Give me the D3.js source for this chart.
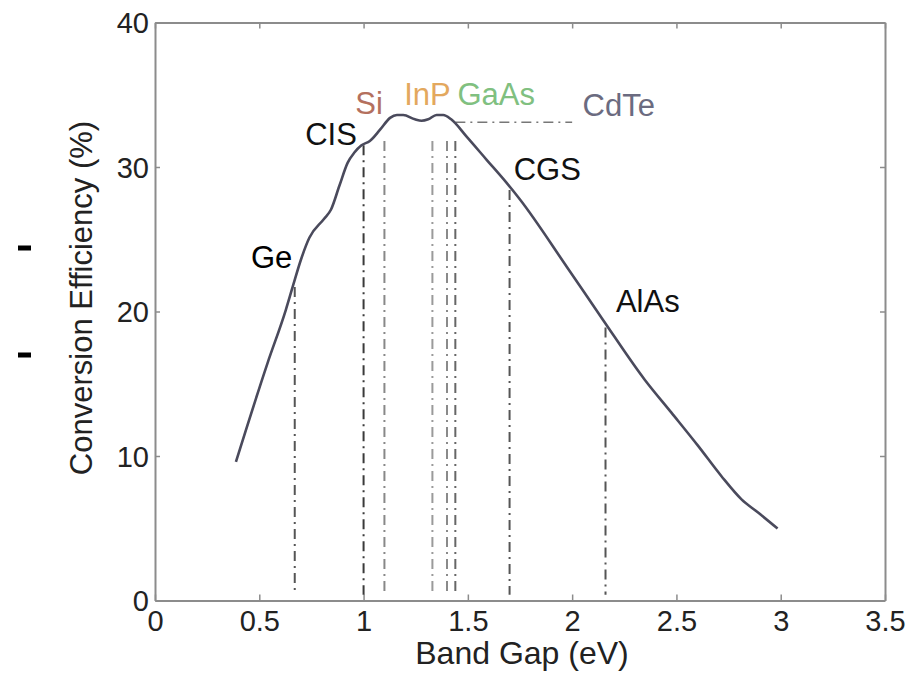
<!DOCTYPE html>
<html>
<head>
<meta charset="utf-8">
<script src="https://cdn.jsdelivr.net/npm/d3@7"></script>
<style>
  html, body { margin: 0; padding: 0; background: #ffffff; }
  svg { display: block; }
  text { font-family: "Liberation Sans", Arial, Helvetica, sans-serif; }
</style>
</head>
<body>
<svg id="chart" width="910" height="676"></svg>
<script>
// ---------------- data ----------------
const bandGap = [0.388, 0.54, 0.627, 0.66, 0.70, 0.74, 0.81, 0.844, 0.884, 0.924, 0.956, 0.99,
  1.03, 1.08, 1.127, 1.16, 1.19, 1.246, 1.278, 1.31, 1.35, 1.382, 1.42, 1.494, 1.59, 1.686,
  1.75, 1.974, 2.149, 2.347, 2.476, 2.604, 2.716, 2.812, 2.893, 2.985];
const efficiency = [9.6, 16.45, 20.1, 21.7, 23.6, 25.1, 26.4, 27.06, 28.7, 30.3, 31.0, 31.5,
  31.8, 32.6, 33.4, 33.6, 33.6, 33.3, 33.2, 33.3, 33.6, 33.6, 33.3, 32.1, 30.5, 28.9,
  27.75, 23.1, 19.4, 15.3, 13.0, 10.7, 8.6, 7.0, 6.07, 4.98];

const materials   = ["Ge", "CIS", "Si", "InP", "GaAs", "CdTe", "CGS", "AlAs"];
const materialGap = [0.67, 1.0, 1.1, 1.33, 1.4, 1.44, 1.7, 2.16];
const materialTop = [21.7, 31.5, 31.8, 31.8, 31.8, 31.8, 28.4, 18.9];
const materialColor = ["#000000", "#111111", "#b4705e", "#e3a85e", "#80c080", "#6b6b80", "#111111", "#111111"];
const guideColor  = ["#555555", "#3a3a3a", "#888888", "#9a9a9a", "#8a8a8a", "#666666", "#555555", "#555555"];
// label anchor (band gap, efficiency) of each material name
const labelGap = [0.46, 0.72, 0.96, 1.195, 1.45, 2.05, 1.72, 2.21];
const labelEff = [23.0, 31.5, 33.7, 34.3, 34.3, 33.5, 29.1, 20.0];

const cdteRun = [1.44, 2.0];   // horizontal CdTe guide (band gap range)
const cdteEff = 33.1;

const xTicks = [0, 0.5, 1, 1.5, 2, 2.5, 3, 3.5];
const xTickLabels = ["0", "0.5", "1", "1.5", "2", "2.5", "3", "3.5"];
const yTicks = [0, 10, 20, 30, 40];
const yTickLabels = ["0", "10", "20", "30", "40"];

// ---------------- layout ----------------
const svg = d3.select("#chart");
const mLeft = 155, mRight = 885, mTop = 22.5, mBottom = 600.5;

const x = d3.scaleLinear().domain([0, 3.5]).range([mLeft, mRight]);
const y = d3.scaleLinear().domain([0, 40]).range([mBottom, mTop]);

const frameColor = "#8c8c8c";
const tickFont = 29;

// axes
const gx = svg.append("g").attr("transform", `translate(0,${mBottom})`)
  .call(d3.axisBottom(x).tickValues(xTicks).tickFormat((d, i) => xTickLabels[i])
        .tickSizeInner(-6).tickSizeOuter(0).tickPadding(10));
const gy = svg.append("g").attr("transform", `translate(${mLeft},0)`)
  .call(d3.axisLeft(y).tickValues(yTicks).tickFormat((d, i) => yTickLabels[i])
        .tickSizeInner(-5).tickSizeOuter(0).tickPadding(6));
const gt = svg.append("g").attr("transform", `translate(0,${mTop})`)
  .call(d3.axisTop(x).tickValues(xTicks).tickFormat("").tickSizeInner(-6).tickSizeOuter(0));
const gr = svg.append("g").attr("transform", `translate(${mRight},0)`)
  .call(d3.axisRight(y).tickValues(yTicks).tickFormat("").tickSizeInner(-5).tickSizeOuter(0));

[gx, gy, gt, gr].forEach(g => {
  g.select(".domain").attr("stroke", frameColor).attr("stroke-width", 2);
  g.selectAll(".tick line").attr("stroke", frameColor).attr("stroke-width", 1.5);
  g.selectAll(".tick text").attr("fill", "#222").style("font-size", tickFont + "px")
    .style("font-family", '"Liberation Sans", Arial, sans-serif');
});
gy.selectAll(".tick text").attr("dy", "0.36em");

// vertical guide lines (dash-dot)
svg.append("g").selectAll("line").data(materials).join("line")
  .attr("x1", (d, i) => x(materialGap[i])).attr("x2", (d, i) => x(materialGap[i]))
  .attr("y1", (d, i) => y(materialTop[i])).attr("y2", y(0.4))
  .attr("stroke", (d, i) => guideColor[i])
  .attr("stroke-width", 2)
  .attr("stroke-dasharray", "10,5,2,5");

// horizontal CdTe guide
svg.append("line")
  .attr("x1", x(cdteRun[0])).attr("x2", x(cdteRun[1]))
  .attr("y1", y(cdteEff)).attr("y2", y(cdteEff))
  .attr("stroke", "#777").attr("stroke-width", 1.6)
  .attr("stroke-dasharray", "10,5,2,5");

// efficiency curve
const pts = bandGap.map((g, i) => [g, efficiency[i]]);
svg.append("path")
  .datum(pts)
  .attr("fill", "none")
  .attr("stroke", "#4a4a5c")
  .attr("stroke-width", 2.6)
  .attr("stroke-linejoin", "round")
  .attr("d", d3.line().x(d => x(d[0])).y(d => y(d[1])).curve(d3.curveMonotoneX));

// material labels
svg.append("g").selectAll("text").data(materials).join("text")
  .attr("x", (d, i) => x(labelGap[i]))
  .attr("y", (d, i) => y(labelEff[i]))
  .attr("fill", (d, i) => materialColor[i])
  .style("font-size", "31px")
  .text(d => d);

// axis titles
svg.append("text")
  .attr("x", (mLeft + mRight) / 2 + 2).attr("y", 664)
  .attr("text-anchor", "middle").attr("fill", "#222")
  .style("font-size", "32px")
  .text("Band Gap (eV)");
svg.append("text")
  .attr("transform", "translate(92,298) rotate(-90)")
  .attr("text-anchor", "middle").attr("fill", "#222")
  .style("font-size", "31px")
  .text("Conversion Efficiency (%)");

// stray slide bullet marks at the left edge
svg.append("g").selectAll("rect").data([248, 355]).join("rect")
  .attr("x", 18).attr("y", d => d - 2.5).attr("width", 13).attr("height", 5)
  .attr("fill", "#000");
</script>
</body>
</html>
